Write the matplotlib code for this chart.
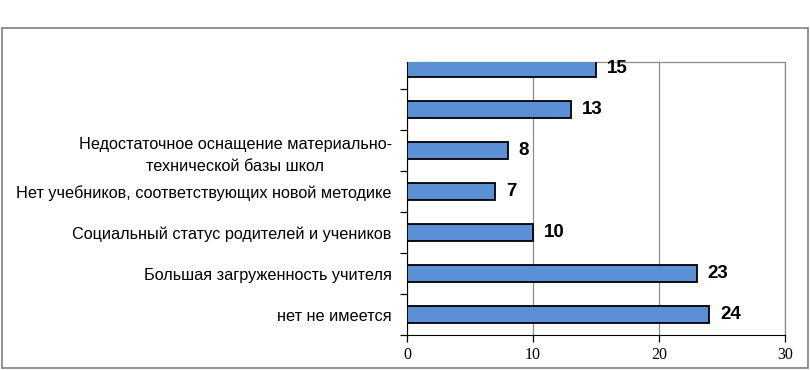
"""Horizontal bar chart: difficulties reported by teachers (counts)."""

import matplotlib
matplotlib.use("Agg")
import matplotlib.pyplot as plt
import numpy as np
from matplotlib.patches import Rectangle

# bottom to top, the two top labels are cut off in the source image
categories = [
    "нет не имеется",
    "Большая загруженность учителя",
    "Социальный статус родителей и учеников",
    "Нет учебников, соответствующих новой методике",
    "Недостаточное оснащение материально-\nтехнической базы школ",
    "",
    "",
]
values = [24, 23, 10, 7, 8, 13, 15]
x_ticks = [0, 10, 20, 30]

BAR_COLOR = "#5b8fd6"

fig = plt.figure(figsize=(8.1, 3.7), dpi=100)
fig.patches.append(Rectangle((0.002, 0.005), 0.995, 0.92, transform=fig.transFigure,
                             fill=False, edgecolor="#7f7f7f", linewidth=1.2))

ax = fig.add_axes([0.5025, 0.0946, 0.4667, 0.7378])
pos = np.arange(len(categories))
ax.barh(pos, values, height=0.43, color=BAR_COLOR, edgecolor="black", linewidth=1.3, zorder=3)

for y, v in zip(pos, values):
    ax.text(v + 0.85, y, str(v), va="center", ha="left", fontsize=13.5,
            fontweight="bold", family="Liberation Sans", zorder=4)

ax.set_xticks(x_ticks)
ax.set_xticklabels([str(t) for t in x_ticks], family="Liberation Serif", fontsize=11.5)
ax.set_yticks(pos)
ax.set_yticklabels(categories, family="Liberation Sans", fontsize=11.7, linespacing=1.6)
ax.set_yticks(np.arange(-0.5, len(categories) - 0.5), minor=True)
# limits after the ticks, set_ticks widens the view otherwise
ax.set_xlim(0, 30)
ax.set_ylim(-0.5, 6.16)
ax.tick_params(axis="y", which="major", length=0, pad=11)
ax.tick_params(axis="y", which="minor", length=5, direction="out", width=0.9)
ax.tick_params(axis="x", length=5, direction="out", width=0.9, pad=4)

for lbl in ax.get_yticklabels():
    lbl.set_multialignment("center")

ax.xaxis.grid(True, color="#8c8c8c", linewidth=0.9, zorder=0)
for side in ("top", "right"):
    ax.spines[side].set_color("#8c8c8c")
    ax.spines[side].set_linewidth(0.9)
ax.spines["left"].set_color("black")
ax.spines["bottom"].set_color("black")

fig.savefig("out.png", dpi=100)
